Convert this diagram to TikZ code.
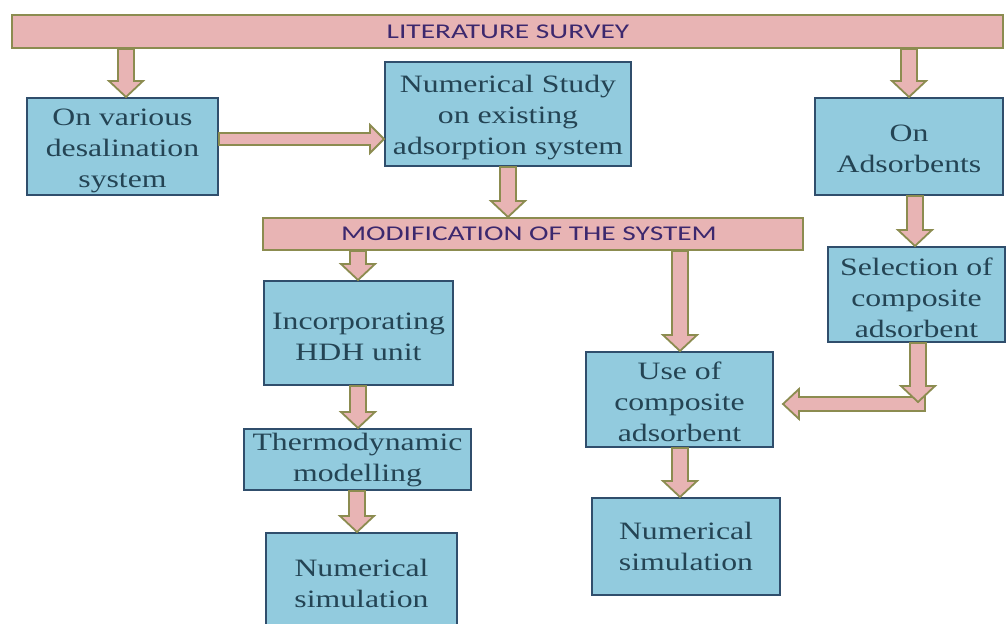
\documentclass[tikz,border=0pt]{standalone}
\usepackage{fontspec}
\setmainfont{Liberation Serif}[FakeStretch=1.27]
\newfontfamily\barfont{Carlito}[FakeStretch=1.4]
\usetikzlibrary{calc}
\definecolor{boxfill}{RGB}{146,203,222}
\definecolor{boxline}{RGB}{48,78,108}
\definecolor{txt}{RGB}{36,68,84}
\definecolor{barfill}{RGB}{232,180,180}
\definecolor{olivec}{RGB}{140,140,80}
\definecolor{bartxt}{RGB}{60,40,110}
\tikzset{
  box/.style={draw=boxline, line width=2pt, fill=boxfill, inner sep=0pt},
  boxtxt/.style={text=txt, align=center, font=\fontsize{25}{31}\selectfont, inner sep=0pt},
  bar/.style={draw=olivec, line width=2pt, fill=barfill, inner sep=0pt},
  bartext/.style={text=bartxt, font=\barfont\fontsize{21}{24}\selectfont, inner sep=0pt},
  blk/.style={draw=olivec, line width=1.8pt, fill=barfill, line join=miter},
}
% vertical block arrow: x, start point, tip point
\newcommand\dnarrow[3]{%
  \draw[blk] let \p0=(#1,0), \p1=(#2), \p2=(#3) in
    (\x0-8pt,\y1) -- (\x0-8pt,\y2+16pt) -- (\x0-17pt,\y2+16pt) -- (\x0,\y2)
    -- (\x0+17pt,\y2+16pt) -- (\x0+8pt,\y2+16pt) -- (\x0+8pt,\y1) -- cycle;}
% rightward block arrow: y, start point, tip point
\newcommand\rtarrow[3]{%
  \draw[blk] let \p0=(0,#1), \p1=(#2), \p2=(#3) in
    (\x1,\y0+6pt) -- (\x2-14pt,\y0+6pt) -- (\x2-14pt,\y0+14pt) -- (\x2,\y0)
    -- (\x2-14pt,\y0-14pt) -- (\x2-14pt,\y0-6pt) -- (\x1,\y0-6pt) -- cycle;}
% leftward block arrow: y, start point, tip point
\newcommand\lfarrow[3]{%
  \draw[blk] let \p0=(0,#1), \p1=(#2), \p2=(#3) in
    (\x1,\y0+7pt) -- (\x2+16pt,\y0+7pt) -- (\x2+16pt,\y0+15pt) -- (\x2,\y0)
    -- (\x2+16pt,\y0-15pt) -- (\x2+16pt,\y0-7pt) -- (\x1,\y0-7pt) -- cycle;}
\begin{document}
\begin{tikzpicture}[x=1pt,y=-1pt]
\useasboundingbox[fill=white] (0,0) rectangle (1007,624);
\begin{scope}
\clip (0,0) rectangle (1007,624);
% bars
\node[bar, minimum width=991pt, minimum height=33pt] (lit) at (507.5,31.5) {};
\node[bartext] (littxt) at (508,31.5) {LITERATURE SURVEY};
\node[bar, minimum width=540pt, minimum height=32pt] (mod) at (533,234) {};
\node[bartext] (modtxt) at (529,234) {MODIFICATION OF THE SYSTEM};
% boxes
\node[box, minimum width=191pt, minimum height=97pt] (desal) at (122.5,146.5) {};
\node[boxtxt] (desalT) at ($(desal.center)+(0,4)$) {On various\\desalination\\system};
\node[box, minimum width=246pt, minimum height=104pt] (numst) at (508,114) {};
\node[boxtxt] (numstT) at ($(numst.center)+(0,4)$) {Numerical Study\\on existing\\adsorption system};
\node[box, minimum width=188pt, minimum height=97pt] (onads) at (909,146.5) {};
\node[boxtxt] (onadsT) at ($(onads.center)+(0,2)$) {On\\Adsorbents};
\node[box, minimum width=189pt, minimum height=104pt] (hdh) at (358.5,333) {};
\node[boxtxt] (hdhT) at ($(hdh.center)+(0,4)$) {Incorporating\\HDH unit};
\node[box, minimum width=177pt, minimum height=95pt] (sel) at (916.5,294.5) {};
\node[boxtxt] (selT) at ($(sel.center)+(0,3)$) {Selection of\\composite\\adsorbent};
\node[box, minimum width=187pt, minimum height=95pt] (use) at (679.5,399.5) {};
\node[boxtxt] (useT) at ($(use.center)+(0,2)$) {Use of\\composite\\adsorbent};
\node[box, minimum width=227pt, minimum height=61pt] (thermo) at (357.5,459.5) {};
\node[boxtxt] (thermoT) at ($(thermo.center)+(0,1)$) {Thermodynamic\\modelling};
\node[box, minimum width=191pt, minimum height=98pt] (ns1) at (361.5,582) {};
\node[boxtxt] (ns1T) at ($(ns1.center)+(0,1)$) {Numerical\\simulation};
\node[box, minimum width=188pt, minimum height=97pt] (ns2) at (686,546.5) {};
\node[boxtxt] (ns2T) at ($(ns2.center)+(0,0)$) {Numerical\\simulation};
% connectors
\dnarrow{126}{lit.south}{desal.north}
\dnarrow{909}{lit.south}{onads.north}
\rtarrow{139}{desal.east}{numst.west}
\dnarrow{508}{numst.south}{mod.north}
\dnarrow{358}{mod.south}{hdh.north}
\dnarrow{680}{mod.south}{use.north}
\dnarrow{915}{onads.south}{sel.north}
\coordinate (elbtip) at (918,402);
\coordinate (elbstart) at (925,404);
\coordinate (usetip) at ($(use.east)+(9,0)$);
\lfarrow{404}{elbstart}{usetip}
\dnarrow{918}{sel.south}{elbtip}
\dnarrow{358}{hdh.south}{thermo.north}
\dnarrow{357}{thermo.south}{ns1.north}
\dnarrow{680}{use.south}{ns2.north}
\end{scope}
\end{tikzpicture}
\end{document}
